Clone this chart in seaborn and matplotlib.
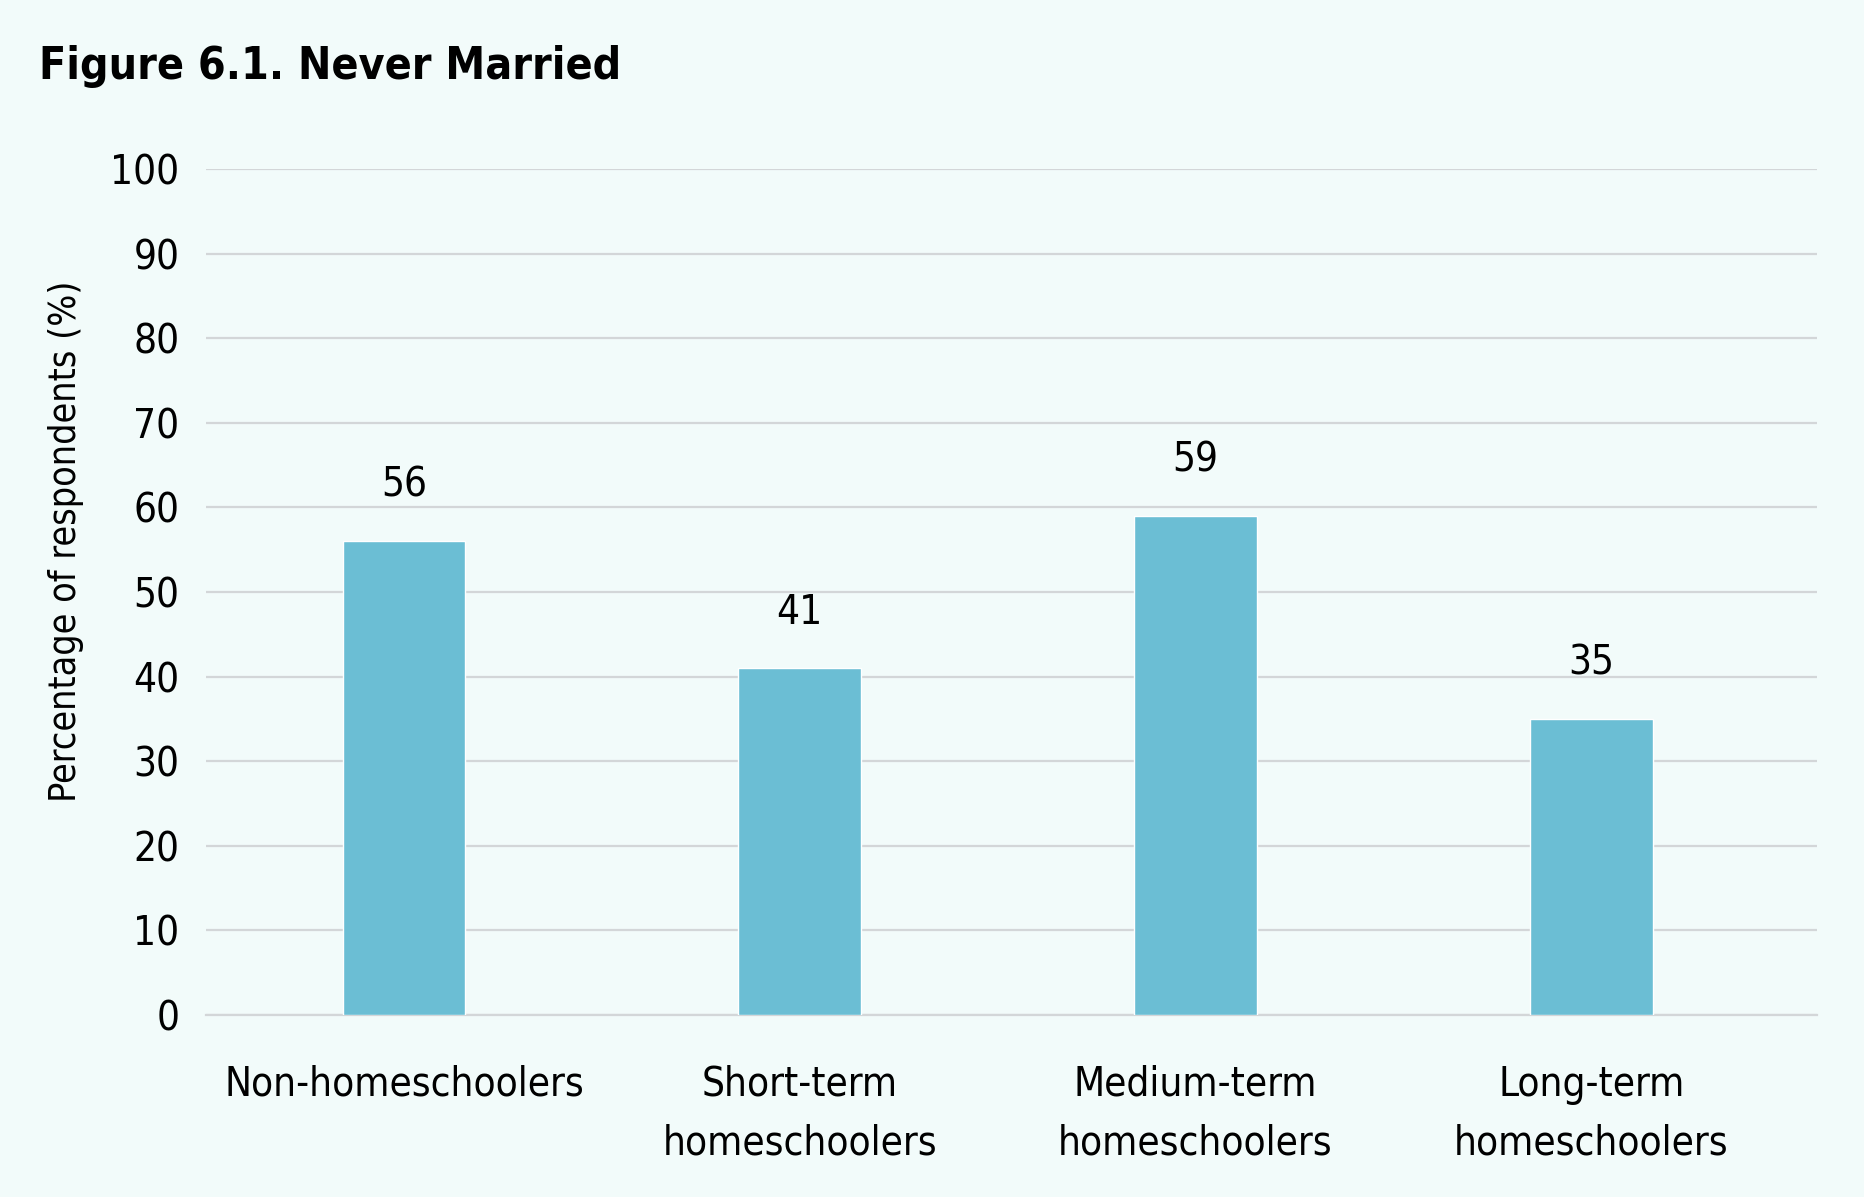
import matplotlib
matplotlib.use("Agg")
import matplotlib.pyplot as plt
import seaborn as sns
import pandas as pd

# Datos
categorias = ["Non-homeschoolers", "Short-term\nhomeschoolers",
              "Medium-term\nhomeschoolers", "Long-term\nhomeschoolers"]
valores = [56, 41, 59, 35]
ticks_y = [0, 10, 20, 30, 40, 50, 60, 70, 80, 90, 100]

fondo = "#F2FBFA"
color_barra = "#6BBED4"

sns.set_theme(style="white")
plt.rcParams["font.family"] = ["DejaVu Sans"]
plt.rcParams["font.stretch"] = "condensed"
plt.rcParams["text.color"] = "black"
plt.rcParams["xtick.color"] = "black"
plt.rcParams["ytick.color"] = "black"
plt.rcParams["axes.labelcolor"] = "black"

df = pd.DataFrame({"Grupo": categorias, "Valor": valores})

fig = plt.figure(figsize=(18.64, 11.97), dpi=100, facecolor=fondo)
ax = fig.add_axes([206 / 1864, 1 - 1015 / 1197, (1817 - 206) / 1864, (1015 - 169) / 1197])
ax.set_facecolor(fondo)

sns.barplot(data=df, x="Grupo", y="Valor", color=color_barra, width=0.31,
            saturation=1, ax=ax, zorder=3)

ax.set_xlim(-0.5, 3.57)
ax.set_ylim(0, 100)
ax.set_yticks(ticks_y)
ax.tick_params(axis="y", labelsize=29, pad=19, length=0)
ax.tick_params(axis="x", labelsize=29, pad=36, length=0)
for lab in ax.get_xticklabels():
    lab.set_linespacing(1.6)
ax.yaxis.grid(True, color="#D3D6D8", linewidth=1.6, zorder=0)
for s in ["top", "right", "left"]:
    ax.spines[s].set_visible(False)
ax.spines["bottom"].set_color("#D3D6D8")
ax.spines["bottom"].set_linewidth(1.6)

ax.set_xlabel("")
ax.set_ylabel("Percentage of respondents (%)", fontsize=27)
ax.yaxis.set_label_coords(-0.076, 0.56)

for i, v in enumerate(valores):
    ax.text(i, v + 4.2, str(v), ha="center", va="bottom", fontsize=29)

fig.text(39 / 1864, 1 - 67 / 1197, "Figure 6.1. Never Married", fontsize=32,
         fontweight="bold", ha="left", va="center")

fig.savefig("out.png", dpi=100, facecolor=fondo)
